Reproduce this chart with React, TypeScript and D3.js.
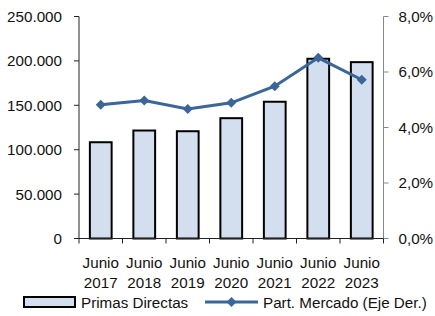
import React, { useRef, useEffect } from "react";
import * as d3 from "d3";

const categories = ["2017", "2018", "2019", "2020", "2021", "2022", "2023"];
const primasDirectas = [108400, 121600, 120800, 135500, 154000, 202400, 198600];
const partMercado = [4.82, 4.97, 4.67, 4.89, 5.49, 6.51, 5.72];
const leftTicks = [0, 50000, 100000, 150000, 200000, 250000];
const rightTicks = [0, 2, 4, 6, 8];

const WIDTH = 435;
const HEIGHT = 316;
const FONT = "'Liberation Sans', Arial, sans-serif";
const FS = "15.2px";

const App = () => {
  const svgRef = useRef<SVGSVGElement>(null);

  useEffect(() => {
    const svg = d3.select(svgRef.current);
    svg.selectAll("*").remove();

    const left = 79;
    const right = 383.5;
    const top = 16.5;
    const bottom = 238.5;

    const x = d3.scaleBand().domain(categories).range([left, right]).padding(0);
    const y = d3.scaleLinear().domain([0, 250000]).range([bottom, top]);
    const y2 = d3.scaleLinear().domain([0, 8]).range([bottom, top]);

    const fmtLeft = (d: number) =>
      d === 0 ? "0" : d3.format(",.0f")(d).replace(/,/g, ".");
    const fmtRight = (d: number) => d.toFixed(1).replace(".", ",") + "%";

    // bars
    const bw = x.bandwidth() * 0.5;
    svg
      .append("g")
      .selectAll("rect")
      .data(primasDirectas)
      .enter()
      .append("rect")
      .attr("x", (d, i) => x(categories[i])! + x.bandwidth() / 2 - bw / 2)
      .attr("y", (d) => y(d))
      .attr("width", bw)
      .attr("height", (d) => y(0) - y(d))
      .attr("fill", "#d3dfee")
      .attr("stroke", "#000")
      .attr("stroke-width", 2);

    // left axis
    const la = svg.append("g").attr("transform", `translate(${left},0)`);
    la.append("line")
      .attr("y1", top)
      .attr("y2", bottom)
      .attr("stroke", "#222")
      .attr("stroke-width", 1);
    la.selectAll("line.t")
      .data(leftTicks)
      .enter()
      .append("line")
      .attr("class", "t")
      .attr("x1", -5)
      .attr("x2", 0)
      .attr("y1", (d) => y(d))
      .attr("y2", (d) => y(d))
      .attr("stroke", "#222");
    la.selectAll("text")
      .data(leftTicks)
      .enter()
      .append("text")
      .attr("x", -17)
      .attr("y", (d) => y(d))
      .attr("dy", "0.36em")
      .attr("text-anchor", "end")
      .style("font-family", FONT)
      .style("font-size", FS)
      .attr("fill", "#111")
      .text(fmtLeft);

    // right axis
    const ra = svg.append("g").attr("transform", `translate(${right},0)`);
    ra.append("line")
      .attr("y1", top)
      .attr("y2", bottom)
      .attr("stroke", "#888")
      .attr("stroke-width", 1);
    ra.selectAll("line.t")
      .data(rightTicks)
      .enter()
      .append("line")
      .attr("class", "t")
      .attr("x1", 0)
      .attr("x2", 5)
      .attr("y1", (d) => y2(d))
      .attr("y2", (d) => y2(d))
      .attr("stroke", "#888");
    ra.selectAll("text")
      .data(rightTicks)
      .enter()
      .append("text")
      .attr("x", 15)
      .attr("y", (d) => y2(d))
      .attr("dy", "0.36em")
      .attr("text-anchor", "start")
      .style("font-family", FONT)
      .style("font-size", FS)
      .attr("fill", "#111")
      .text(fmtRight);

    // x axis
    const xa = svg.append("g");
    xa.append("line")
      .attr("x1", left - 5)
      .attr("x2", right)
      .attr("y1", bottom)
      .attr("y2", bottom)
      .attr("stroke", "#222");
    xa.selectAll("line.t")
      .data(categories)
      .enter()
      .append("line")
      .attr("class", "t")
      .attr("x1", (d) => x(d)!)
      .attr("x2", (d) => x(d)!)
      .attr("y1", bottom)
      .attr("y2", bottom + 5)
      .attr("stroke", "#222");
    xa.append("line")
      .attr("x1", right)
      .attr("x2", right)
      .attr("y1", bottom)
      .attr("y2", bottom + 5)
      .attr("stroke", "#222");
    const labels = xa
      .selectAll("text")
      .data(categories)
      .enter()
      .append("text")
      .attr("text-anchor", "middle")
      .style("font-family", FONT)
      .style("font-size", FS)
      .attr("fill", "#111");
    labels
      .append("tspan")
      .attr("x", (d) => x(d)! + x.bandwidth() / 2)
      .attr("y", 268)
      .text("Junio");
    labels
      .append("tspan")
      .attr("x", (d) => x(d)! + x.bandwidth() / 2)
      .attr("y", 288)
      .text((d) => d);

    // line series
    const line = d3
      .line<number>()
      .x((d, i) => x(categories[i])! + x.bandwidth() / 2)
      .y((d) => y2(d));
    svg
      .append("path")
      .datum(partMercado)
      .attr("d", line)
      .attr("fill", "none")
      .attr("stroke", "#3a6699")
      .attr("stroke-width", 3);
    const diamond = d3.symbol().type(d3.symbolDiamond2).size(64);
    svg
      .append("g")
      .selectAll("path")
      .data(partMercado)
      .enter()
      .append("path")
      .attr("d", diamond)
      .attr(
        "transform",
        (d, i) => `translate(${x(categories[i])! + x.bandwidth() / 2},${y2(d)})`
      )
      .attr("fill", "#3a6699");

    // legend
    const lg = svg.append("g");
    lg.append("rect")
      .attr("x", 24)
      .attr("y", 297)
      .attr("width", 51)
      .attr("height", 10)
      .attr("fill", "#d3dfee")
      .attr("stroke", "#000")
      .attr("stroke-width", 2);
    lg.append("text")
      .attr("x", 81)
      .attr("y", 307.5)
      .style("font-family", FONT)
      .style("font-size", FS)
      .attr("fill", "#111")
      .text("Primas Directas");
    lg.append("line")
      .attr("x1", 205)
      .attr("x2", 258)
      .attr("y1", 302)
      .attr("y2", 302)
      .attr("stroke", "#3a6699")
      .attr("stroke-width", 3);
    lg.append("path")
      .attr("d", diamond)
      .attr("transform", "translate(231.5,302)")
      .attr("fill", "#3a6699");
    lg.append("text")
      .attr("x", 263)
      .attr("y", 307.5)
      .style("font-family", FONT)
      .style("font-size", FS)
      .attr("fill", "#111")
      .text("Part. Mercado (Eje Der.)");
  }, []);

  return (
    <svg
      ref={svgRef}
      width={WIDTH}
      height={HEIGHT}
      style={{ position: "fixed", left: 0, top: 0, background: "#fff" }}
    ></svg>
  );
};

export default App;
